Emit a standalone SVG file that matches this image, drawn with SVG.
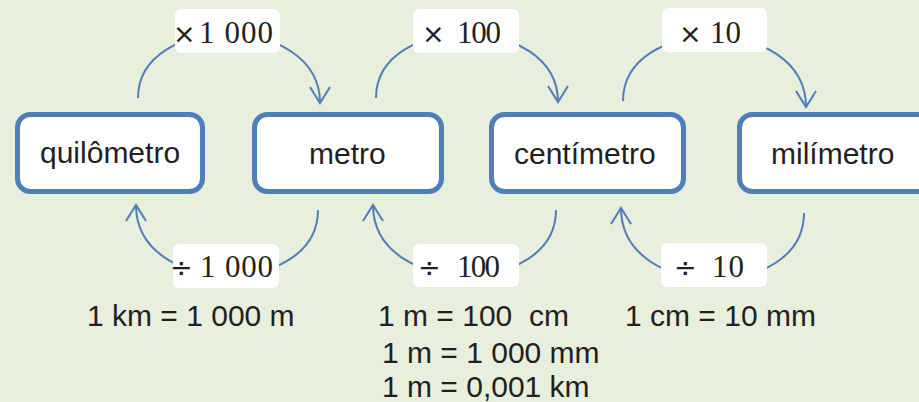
<svg xmlns="http://www.w3.org/2000/svg" width="919" height="402" viewBox="0 0 919 402">
<style>
.box{fill:#fff;stroke:#4f7fba;stroke-width:5}
.lbl{fill:#fff;stroke:none}
.conn{fill:none;stroke:#4f7fba;stroke-width:2}
.t{font-family:"Liberation Sans",Arial,sans-serif;font-size:30px;fill:#231f20}
.m{font-family:"Liberation Serif","DejaVu Serif",serif;font-size:31px;fill:#231f20}
.op{font-family:"DejaVu Sans",sans-serif;font-size:27px}
</style>
<defs>
<marker id="arr" markerUnits="userSpaceOnUse" markerWidth="40" markerHeight="40" refX="0" refY="0" orient="auto" viewBox="-20 -20 40 40" overflow="visible">
<path d="M-16,-10 L0,0 L-16,10" fill="none" stroke="#4f7fba" stroke-width="2"/>
</marker>
</defs>
<rect width="919" height="402" fill="#e8efdc"/>
<g id="connectors">
<path class="conn" d="M138,98 C138,12 320,12 320,103" marker-end="url(#arr)"/>
<path class="conn" d="M376,98 C376,12 558,12 558,102" marker-end="url(#arr)"/>
<path class="conn" d="M623,101 C623,14 806,14 806,107" marker-end="url(#arr)"/>
<path class="conn" d="M318,210 C318,298 136,298 136,205" marker-end="url(#arr)"/>
<path class="conn" d="M556,210 C556,298 373,298 373,205" marker-end="url(#arr)"/>
<path class="conn" d="M804,213 C804,302 621,302 621,208" marker-end="url(#arr)"/>
</g>
<g id="quilometro">
<rect class="box" x="17.5" y="114.5" width="185" height="77" rx="13"/>
<text class="t" x="40" y="163">quilômetro</text>
</g>
<g id="metro">
<rect class="box" x="254.5" y="114.5" width="187" height="77" rx="13"/>
<text class="t" x="309" y="164">metro</text>
</g>
<g id="centimetro">
<rect class="box" x="491.5" y="114.5" width="192" height="77" rx="13"/>
<text class="t" x="514" y="164">centímetro</text>
</g>
<g id="milimetro">
<rect class="box" x="739.5" y="114.5" width="200" height="77" rx="13"/>
<text class="t" x="771" y="164">milímetro</text>
</g>
<g id="label-mul-1000">
<rect class="lbl" x="175" y="9" width="105" height="44" rx="6"/>
<text class="m" y="43"><tspan class="op" x="173">×</tspan><tspan x="199" textLength="74" lengthAdjust="spacing">1 000</tspan></text>
</g>
<g id="label-mul-100">
<rect class="lbl" x="413" y="9" width="106" height="44" rx="6"/>
<text class="m" y="43"><tspan class="op" x="422">×</tspan><tspan x="457" textLength="44" lengthAdjust="spacing">100</tspan></text>
</g>
<g id="label-mul-10">
<rect class="lbl" x="662" y="8" width="105" height="44" rx="6"/>
<text class="m" y="43"><tspan class="op" x="679">×</tspan><tspan x="710" textLength="31" lengthAdjust="spacing">10</tspan></text>
</g>
<g id="label-div-1000">
<rect class="lbl" x="173" y="244" width="106" height="44" rx="6"/>
<text class="m" y="277"><tspan class="op" x="170">÷</tspan><tspan x="200" textLength="73" lengthAdjust="spacing">1 000</tspan></text>
</g>
<g id="label-div-100">
<rect class="lbl" x="413" y="244" width="106" height="43" rx="6"/>
<text class="m" y="277"><tspan class="op" x="418">÷</tspan><tspan x="457" textLength="43" lengthAdjust="spacing">100</tspan></text>
</g>
<g id="label-div-10">
<rect class="lbl" x="661" y="243" width="106" height="44" rx="6"/>
<text class="m" y="277"><tspan class="op" x="674">÷</tspan><tspan x="712" textLength="32" lengthAdjust="spacing">10</tspan></text>
</g>
<g id="notes">
<text class="t" x="87" y="326">1 km = 1 000 m</text>
<text class="t" x="378" y="326" xml:space="preserve">1 m = 100  cm</text>
<text class="t" x="625" y="326">1 cm = 10 mm</text>
<text class="t" x="382" y="363">1 m = 1 000 mm</text>
<text class="t" x="382" y="397">1 m = 0,001 km</text>
</g>
</svg>
